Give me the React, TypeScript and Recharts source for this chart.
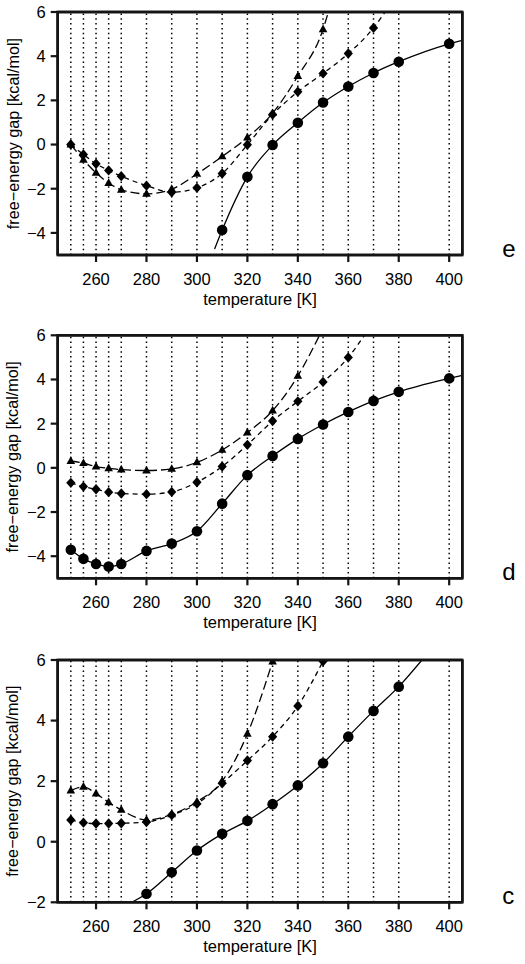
import React from "react";
import {
  ComposedChart,
  Line,
  ReferenceLine,
  Scatter,
  XAxis,
  YAxis,
} from "recharts";

const FONT = '"Liberation Sans", Arial, Helvetica, sans-serif';

// temperatures sampled in every panel (also where the dotted guides sit)
const temps = [250, 255, 260, 265, 270, 280, 290, 300, 310, 320, 330, 340, 350, 360, 370, 380, 400];
const xTicks = [260, 280, 300, 320, 340, 360, 380, 400];
const yTicksWide = [-4, -2, 0, 2, 4, 6];
const yTicksNarrow = [-2, 0, 2, 4, 6];

// panel e
const eCircle = [null, null, null, null, null, null, null, null, -3.87, -1.46, -0.02, 0.99, 1.9, 2.63, 3.24, 3.75, 4.56];
const eDiamond = [0.0, -0.45, -0.87, -1.17, -1.43, -1.86, -2.16, -1.96, -1.31, -0.01, 1.36, 2.39, 3.22, 4.12, 5.28, null, null];
const eTriangle = [0.0, -0.69, -1.28, -1.74, -2.05, -2.23, -2.02, -1.33, -0.54, 0.32, 1.42, 3.1, 5.22, null, null, null, null];
const eCircleEdge = [[307, -4.73], [405.2, 4.72]];
const eDiamondEdge = [[374.6, 6]];
const eTriangleEdge = [[352.1, 6]];

// panel d
const dCircle = [-3.71, -4.12, -4.35, -4.47, -4.35, -3.76, -3.43, -2.87, -1.62, -0.33, 0.54, 1.31, 1.96, 2.53, 3.03, 3.44, 4.05];
const dDiamond = [-0.68, -0.85, -0.97, -1.1, -1.16, -1.19, -1.09, -0.65, 0.06, 1.04, 2.12, 3.01, 3.89, 5.0, null, null, null];
const dTriangle = [0.31, 0.21, 0.06, -0.02, -0.08, -0.12, -0.05, 0.25, 0.81, 1.6, 2.59, 4.16, null, null, null, null, null];
const dCircleEdge = [[405.2, 4.19]];
const dDiamondEdge = [[366.4, 6]];
const dTriangleEdge = [[348.6, 6]];

// panel c
const cCircle = [null, null, null, null, null, -1.72, -1.01, -0.29, 0.26, 0.69, 1.24, 1.86, 2.59, 3.47, 4.32, 5.12, null];
const cDiamond = [0.72, 0.63, 0.6, 0.6, 0.61, 0.65, 0.88, 1.25, 1.93, 2.68, 3.47, 4.48, 5.96, null, null, null, null];
const cTriangle = [1.69, 1.81, 1.59, 1.3, 1.05, 0.72, 0.9, 1.32, 2.0, 3.56, 5.95, null, null, null, null, null, null];
const cCircleEdge = [[274.2, -2], [389.2, 6]];

type Pt = { t: number; v: number };

function points(values: (number | null)[]): Pt[] {
  const out: Pt[] = [];
  values.forEach((v, i) => {
    if (v !== null) out.push({ t: temps[i], v });
  });
  return out;
}

function curve(values: (number | null)[], edges: number[][] = []): Pt[] {
  return [...points(values), ...edges.map(([t, v]) => ({ t, v }))].sort((a, b) => a.t - b.t);
}

function fmt(v: number) {
  return v < 0 ? `\u2212${Math.abs(v)}` : `${v}`;
}

function marker(kind: string) {
  return (p: any) => {
    const { cx, cy } = p;
    if (cx == null || cy == null) return <g />;
    if (kind === "circle") return <circle cx={cx} cy={cy} r={5.3} fill="#000" />;
    if (kind === "diamond")
      return (
        <polygon
          points={`${cx},${cy - 5.2} ${cx + 4.6},${cy} ${cx},${cy + 5.2} ${cx - 4.6},${cy}`}
          fill="#000"
        />
      );
    return (
      <polygon
        points={`${cx},${cy - 4.8} ${cx + 4.3},${cy + 2.9} ${cx - 4.3},${cy + 2.9}`}
        fill="#000"
      />
    );
  };
}

interface PanelProps {
  height: number;
  top: number;
  bottom: number;
  yDomain: [number, number];
  yTicks: number[];
  circle: (number | null)[];
  diamond: (number | null)[];
  triangle: (number | null)[];
  circleEdge?: number[][];
  diamondEdge?: number[][];
  triangleEdge?: number[][];
  letter: string;
}

const X_DOMAIN: [number, number] = [244.8, 405.2];
const LEFT = 57.7;
const RIGHT = 62.7;
const INK = "#141414";
const frameLine = { stroke: INK, strokeWidth: 2.6 };
const tickLineStyle = { stroke: INK, strokeWidth: 2.2 };
const tickStyle = { fill: "#000", fontSize: 16.5, fontFamily: FONT };

function Panel(props: PanelProps) {
  const { height, top, bottom, yDomain, yTicks, letter } = props;
  const plotRight = 525 - RIGHT;
  const plotBottom = height - bottom - 45;
  const midY = (top + plotBottom) / 2;

  return (
    <div style={{ position: "relative", width: 525, height }}>
      <ComposedChart
        width={525}
        height={height}
        margin={{ top, right: RIGHT, bottom, left: LEFT - 50 }}
      >
        <XAxis
          type="number"
          dataKey="t"
          domain={X_DOMAIN}
          ticks={xTicks}
          allowDataOverflow
          height={45}
          axisLine={frameLine}
          tickLine={tickLineStyle}
          tickSize={7}
          tickMargin={11}
          tick={tickStyle}
        />
        <YAxis
          type="number"
          dataKey="v"
          domain={yDomain}
          ticks={yTicks}
          allowDataOverflow
          width={50}
          axisLine={frameLine}
          tickLine={tickLineStyle}
          tickSize={7}
          tickMargin={5}
          tick={tickStyle}
          tickFormatter={fmt}
        />
        {temps.map((t) => (
          <ReferenceLine
            key={t}
            x={t}
            stroke="#000"
            strokeWidth={1.5}
            strokeDasharray="1.5 3.3"
          />
        ))}
        <ReferenceLine x={X_DOMAIN[1]} stroke={INK} strokeWidth={2.6} />
        <ReferenceLine y={yDomain[1]} stroke={INK} strokeWidth={2.6} />
        <Line
          data={curve(props.circle, props.circleEdge)}
          dataKey="v"
          type="monotone"
          stroke="#000"
          strokeWidth={1.3}
          dot={false}
          activeDot={false}
          isAnimationActive={false}
        />
        <Line
          data={curve(props.diamond, props.diamondEdge)}
          dataKey="v"
          type="monotone"
          stroke="#000"
          strokeWidth={1.3}
          strokeDasharray="5 4"
          dot={false}
          activeDot={false}
          isAnimationActive={false}
        />
        <Line
          data={curve(props.triangle, props.triangleEdge)}
          dataKey="v"
          type="monotone"
          stroke="#000"
          strokeWidth={1.3}
          strokeDasharray="9 4"
          dot={false}
          activeDot={false}
          isAnimationActive={false}
        />
        <Scatter data={points(props.circle)} dataKey="v" shape={marker("circle")} isAnimationActive={false} />
        <Scatter data={points(props.diamond)} dataKey="v" shape={marker("diamond")} isAnimationActive={false} />
        <Scatter data={points(props.triangle)} dataKey="v" shape={marker("triangle")} isAnimationActive={false} />
      </ComposedChart>
      {/* titles and plot box laid over the chart */}
      <svg
        width={525}
        height={height}
        style={{ position: "absolute", left: 0, top: 0, pointerEvents: "none" }}
      >
        <rect
          x={LEFT}
          y={top}
          width={plotRight - LEFT}
          height={plotBottom - top}
          fill="none"
          stroke={INK}
          strokeWidth={2.6}
        />
        <text
          x={(LEFT + plotRight) / 2}
          y={plotBottom + 50}
          textAnchor="middle"
          fontSize={16.5}
          fontFamily={FONT}
          fill="#000"
        >
          temperature [K]
        </text>
        <text x={plotRight + 40} y={plotBottom + 2} fontSize={24} fontFamily={FONT} fill="#000">
          {letter}
        </text>
        <text
          x={18.5}
          y={midY}
          transform={`rotate(-90 18.5 ${midY})`}
          textAnchor="middle"
          fontSize={16.2}
          fontFamily={FONT}
          fill="#000"
        >
          free{"\u2212"}energy gap [kcal/mol]
        </text>
      </svg>
    </div>
  );
}

export default function App() {
  return (
    <div style={{ width: 525, height: 964, background: "#fff" }}>
      <style>{"body{margin:0;background:#fff}"}</style>
      <Panel
        height={320}
        top={12}
        bottom={20}
        yDomain={[-5, 6]}
        yTicks={yTicksWide}
        circle={eCircle}
        diamond={eDiamond}
        triangle={eTriangle}
        circleEdge={eCircleEdge}
        diamondEdge={eDiamondEdge}
        triangleEdge={eTriangleEdge}
        letter="e"
      />
      <Panel
        height={320}
        top={15.3}
        bottom={16.7}
        yDomain={[-5, 6]}
        yTicks={yTicksWide}
        circle={dCircle}
        diamond={dDiamond}
        triangle={dTriangle}
        circleEdge={dCircleEdge}
        diamondEdge={dDiamondEdge}
        triangleEdge={dTriangleEdge}
        letter="d"
      />
      <Panel
        height={324}
        top={20}
        bottom={16.7}
        yDomain={[-2, 6]}
        yTicks={yTicksNarrow}
        circle={cCircle}
        diamond={cDiamond}
        triangle={cTriangle}
        circleEdge={cCircleEdge}
        letter="c"
      />
    </div>
  );
}
